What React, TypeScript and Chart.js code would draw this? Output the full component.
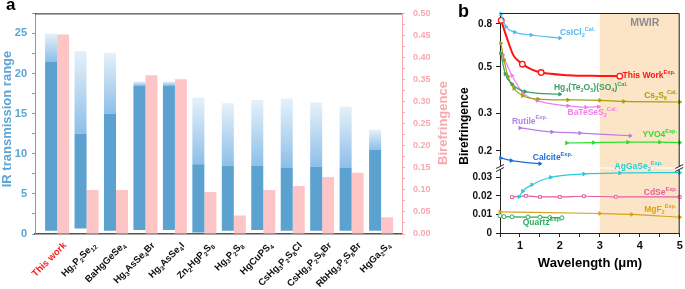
import React, { useEffect, useRef } from 'react';
import { Chart, registerables } from 'chart.js';
Chart.register(...registerables);

const FONT = '"Liberation Sans", Arial, Helvetica, sans-serif';
Chart.defaults.font.family = FONT;

// ---------- Panel a data ----------
const materials = ['This work', 'Hg7P2Se12', 'BaHgGeSe4', 'Hg3AsSe4Br', 'Hg3AsSe4I', 'Zn2HgP2S8', 'Hg3P2S8', 'HgCuPS4', 'CsHg3P2S8Cl', 'CsHg3P2S8Br', 'RbHg3P2S8Br', 'HgGa2S4'];
const irLow = [0.4, 0.7, 0.4, 0.5, 0.5, 0.2, 0.4, 0.5, 0.4, 0.4, 0.4, 0.4];
const irSolidTop = [21.5, 12.5, 15.0, 18.5, 18.5, 8.7, 8.5, 8.5, 8.3, 8.4, 8.3, 10.5];
const irHigh = [25.0, 22.8, 22.6, 19.0, 19.0, 17.0, 16.3, 16.7, 16.9, 16.4, 15.9, 13.0];
const birefA = [0.452, 0.10, 0.10, 0.36, 0.351, 0.095, 0.042, 0.10, 0.109, 0.129, 0.139, 0.038];
const irTicks = [0, 2.5, 5, 7.5, 10, 12.5, 15, 17.5, 20, 22.5, 25, 27.5];
const birefTicks = [0, 0.025, 0.05, 0.075, 0.1, 0.125, 0.15, 0.175, 0.2, 0.225, 0.25, 0.275, 0.3, 0.325, 0.35, 0.375, 0.4, 0.425, 0.45, 0.475, 0.5];

// ---------- Panel b data ----------
const csiclX = [0.52, 0.65, 0.87, 1.28, 2.0];
const csiclY = [0.89, 0.775, 0.73, 0.708, 0.685];
const thisWorkX = [0.53, 0.66, 0.83, 0.95, 1.06, 1.3, 1.53, 2.2, 3.0, 3.5];
const thisWorkY = [0.83, 0.697, 0.57, 0.536, 0.515, 0.485, 0.47, 0.457, 0.453, 0.452];
const thisWorkMarked = [1, 0, 0, 0, 1, 0, 1, 0, 0, 1];
const hgTeX = [0.52, 0.63, 0.8, 1.13, 2.0];
const hgTeY = [0.58, 0.464, 0.415, 0.382, 0.371];
const cs2s6X = [0.52, 0.6, 0.7, 0.85, 1.07, 1.45, 2.2, 3.0, 3.6, 5.0];
const cs2s6Y = [0.648, 0.54, 0.45, 0.395, 0.365, 0.352, 0.349, 0.347, 0.343, 0.341];
const batesesX = [0.57, 0.8, 1.07, 1.43, 2.2, 2.65, 2.97];
const batesesY = [0.57, 0.455, 0.378, 0.346, 0.327, 0.322, 0.324];
const rutileX = [1.0, 1.8, 2.5, 3.76];
const rutileY = [0.257, 0.246, 0.243, 0.236];
const yvo4X = [2.17, 2.84, 3.7, 4.5, 5.0];
const yvo4Y = [0.218, 0.219, 0.22, 0.22, 0.219];
const calciteX = [0.52, 0.78, 1.5];
const calciteY = [0.185, 0.18, 0.174];
const agX = [0.98, 1.07, 1.3, 1.77, 2.6, 3.5, 5.0];
const agY = [0.0195, 0.0225, 0.026, 0.03, 0.0318, 0.0323, 0.0325];
const cdseX = [0.8, 1.15, 1.5, 2.0, 2.6, 3.4, 5.0];
const cdseY = [0.0193, 0.02, 0.0194, 0.0194, 0.0198, 0.0195, 0.0194];
const mgf2X = [0.5, 3.0, 3.8, 5.0];
const mgf2Y = [0.0114, 0.0105, 0.01, 0.0085];
const quartzX = [0.5, 0.6, 0.8, 1.2, 1.5, 1.75, 2.05];
const quartzY = [0.0093, 0.0088, 0.0087, 0.0086, 0.0085, 0.0083, 0.0082];
const upperTicks = [0.2, 0.3, 0.5, 0.8];
const lowerTicks = [0, 0.01, 0.02, 0.03];
const wlTicks = [0.5, 1, 1.5, 2, 2.5, 3, 3.5, 4, 4.5, 5];

type Seg = [string, number];
interface SeriesB {
  x: number[]; y: number[]; axis: string; color: string; marker: string; width?: number;
  text: Seg[]; lx: number; ly: number; marked?: number[];
}

const seriesB: SeriesB[] = [
  { x: csiclX, y: csiclY, axis: 'yUp', color: '#52B9F0', marker: 'triangle', text: [['CsICl', 0], ['2', -1], ['Cal.', 1]], lx: 2.0, ly: 0.725 },
  { x: thisWorkX, y: thisWorkY, axis: 'yUp', color: '#FF1414', marker: 'circle', width: 2, marked: thisWorkMarked, text: [['This Work', 0], ['Exp.', 1]], lx: 3.57, ly: 0.452 },
  { x: hgTeX, y: hgTeY, axis: 'yUp', color: '#3AA264', marker: 'triangle', text: [['Hg', 0], ['4', -1], ['(Te', 0], ['2', -1], ['O', 0], ['5', -1], [')(SO', 0], ['4', -1], [')', 0], ['Cal.', 1]], lx: 1.85, ly: 0.398 },
  { x: cs2s6X, y: cs2s6Y, axis: 'yUp', color: '#A3A10E', marker: 'triangle', text: [['Cs', 0], ['2', -1], ['S', 0], ['6', -1], ['Cal.', 1]], lx: 4.11, ly: 0.365 },
  { x: batesesX, y: batesesY, axis: 'yUp', color: '#F47CEE', marker: 'triangle', text: [['BaTeSeS', 0], ['2', -1], ['Cal.', 1]], lx: 2.19, ly: 0.302 },
  { x: rutileX, y: rutileY, axis: 'yUp', color: '#B57FE6', marker: 'triangle', text: [['Rutile', 0], ['Exp.', 1]], lx: 0.8, ly: 0.276 },
  { x: yvo4X, y: yvo4Y, axis: 'yUp', color: '#2EE02E', marker: 'triangle', text: [['YVO4', 0], ['Exp.', 1]], lx: 4.07, ly: 0.239 },
  { x: calciteX, y: calciteY, axis: 'yUp', color: '#1F6FD8', marker: 'triangle', text: [['Calcite', 0], ['Exp.', 1]], lx: 1.32, ly: 0.185 },
  { x: agX, y: agY, axis: 'yLow', color: '#28CCD6', marker: 'triangle', text: [['AgGaSe', 0], ['2', -1], ['Exp.', 1]], lx: 3.37, ly: 0.0357 },
  { x: cdseX, y: cdseY, axis: 'yLow', color: '#E65C9E', marker: 'rect', text: [['CdSe', 0], ['Exp.', 1]], lx: 4.1, ly: 0.0217 },
  { x: mgf2X, y: mgf2Y, axis: 'yLow', color: '#D8A21E', marker: 'triangle', text: [['MgF', 0], ['2', -1], ['Exp.', 1]], lx: 4.11, ly: 0.0124 },
  { x: quartzX, y: quartzY, axis: 'yLow', color: '#2EAA60', marker: 'circle', text: [['Quartz', 0], ['Exp.', 1]], lx: 1.07, ly: 0.0054 },
];

const BLUE = '#5CA5D4';
const PINK = '#F7AAAC';

function formulaSegs(name: string): Seg[] {
  if (name === 'This work') return [[name, 0]];
  const out: Seg[] = [];
  const re = /(\d+)|([^\d]+)/g;
  let m: RegExpExecArray | null;
  while ((m = re.exec(name))) {
    if (m[1]) out.push([m[1], -1]);
    else out.push([m[2], 0]);
  }
  return out;
}

function rotText(ctx: CanvasRenderingContext2D, text: string, x: number, y: number, color: string, font: string) {
  ctx.save();
  ctx.translate(x, y);
  ctx.rotate(-Math.PI / 2);
  ctx.font = font;
  ctx.fillStyle = color;
  ctx.textAlign = 'center';
  ctx.textBaseline = 'middle';
  ctx.fillText(text, 0, 0);
  ctx.restore();
}

function segFont(kind: number, size: number) {
  const fs = kind === 0 ? size : size * 0.66;
  return `bold ${fs}px ${FONT}`;
}

function segsWidth(ctx: CanvasRenderingContext2D, segs: Seg[], size: number) {
  let w = 0;
  for (const [t, kind] of segs) {
    ctx.font = segFont(kind, size);
    w += ctx.measureText(t).width;
  }
  return w;
}

function richText(ctx: CanvasRenderingContext2D, segs: Seg[], x: number, y: number, color: string, size: number) {
  ctx.save();
  ctx.fillStyle = color;
  ctx.textBaseline = 'middle';
  ctx.textAlign = 'left';
  let cx = x;
  for (const [t, kind] of segs) {
    ctx.font = segFont(kind, size);
    const dy = kind === 1 ? -size * 0.42 : kind === -1 ? size * 0.32 : 0;
    ctx.fillText(t, cx, y + dy);
    cx += ctx.measureText(t).width;
  }
  ctx.restore();
}

function makeChartA(canvas: HTMLCanvasElement) {
  const decorA = {
    id: 'decorA',
    afterDraw(chart: any) {
      const { ctx, chartArea, scales } = chart;
      ctx.save();
      ctx.strokeStyle = '#222';
      ctx.lineWidth = 1;
      ctx.beginPath();
      ctx.moveTo(chartArea.left, chartArea.top + 0.5);
      ctx.lineTo(chartArea.right, chartArea.top + 0.5);
      ctx.stroke();
      ctx.fillStyle = '#000';
      ctx.font = `bold 17px ${FONT}`;
      ctx.textAlign = 'left';
      ctx.textBaseline = 'alphabetic';
      ctx.fillText('a', 6, 10);
      ctx.restore();
      rotText(ctx, 'IR transmission range', 7, 119, BLUE, `bold 13px ${FONT}`);
      rotText(ctx, 'Birefringence', 443, 123, PINK, `bold 13px ${FONT}`);
      // rotated category labels with subscripts
      const size = 9.5;
      materials.forEach((name, i) => {
        const segs = formulaSegs(name);
        const px = scales.x.getPixelForValue(i) + 8;
        const py = chartArea.bottom + 10;
        const w = segsWidth(ctx, segs, size);
        ctx.save();
        ctx.translate(px, py);
        ctx.rotate(-Math.PI / 4);
        richText(ctx, segs, -w, 0, i === 0 ? '#FF1A1A' : '#111', size);
        ctx.restore();
      });
    },
  };

  return new Chart(canvas, {
    type: 'bar',
    data: {
      datasets: [
        {
          label: 'IR solid',
          data: materials.map((_, i) => ({ x: i, y: [irLow[i], irSolidTop[i]] })) as any,
          backgroundColor: '#5BA2D0',
          stack: 'b',
          yAxisID: 'y',
        },
        {
          label: 'IR gradient',
          data: materials.map((_, i) => ({ x: i, y: [irSolidTop[i], irHigh[i]] })) as any,
          backgroundColor: (c: any) => {
            const chart = c.chart;
            if (!chart.chartArea || c.type !== 'data') return '#A8CDEE';
            const ys = chart.scales.y;
            const i = c.dataIndex;
            const y0 = ys.getPixelForValue(irSolidTop[i]);
            const y1 = ys.getPixelForValue(irHigh[i]);
            const g = chart.ctx.createLinearGradient(0, y0, 0, y1);
            g.addColorStop(0, '#8DBFE9');
            g.addColorStop(1, '#E6F1F9');
            return g;
          },
          stack: 'b',
          yAxisID: 'y',
        },
        {
          label: 'Birefringence',
          data: materials.map((_, i) => ({ x: i, y: birefA[i] })) as any,
          backgroundColor: '#FEC5C6',
          stack: 'p',
          yAxisID: 'y2',
        },
      ],
    },
    options: {
      responsive: false,
      animation: false,
      devicePixelRatio: 1,
      layout: { padding: { top: 11, left: 0, right: 0, bottom: 0 } },
      plugins: { legend: { display: false }, tooltip: { enabled: false } },
      datasets: { bar: { categoryPercentage: 0.815, barPercentage: 1.0 } },
      scales: {
        x: {
          type: 'linear',
          min: -0.75,
          max: 11.71,
          stacked: true,
          offset: false,
          afterBuildTicks: (s: any) => { s.ticks = materials.map((_, i) => ({ value: i })); },
          afterFit: (s: any) => { s.height = 55; },
          ticks: {
            autoSkip: false,
            maxRotation: 0,
            callback: () => '',
          },
          grid: { display: false },
          border: { display: true, color: '#555', width: 1.5 },
        },
        y: {
          type: 'linear',
          position: 'left',
          stacked: false,
          min: 0,
          max: 27.5,
          afterBuildTicks: (s: any) => { s.ticks = irTicks.map((v) => ({ value: v })); },
          afterFit: (s: any) => { s.width = 35; },
          ticks: {
            autoSkip: false,
            padding: 5,
            callback: (v: any) => (Number(v) % 5 === 0 ? String(v) : ''),
            color: BLUE,
            font: { size: 11, weight: 'bold' },
          },
          grid: { drawOnChartArea: false, tickLength: 3, color: BLUE },
          border: { color: BLUE, width: 1 },
        },
        y2: {
          type: 'linear',
          position: 'right',
          stacked: false,
          min: 0,
          max: 0.5,
          afterBuildTicks: (s: any) => { s.ticks = birefTicks.map((v) => ({ value: v })); },
          afterFit: (s: any) => { s.width = 48; },
          ticks: {
            autoSkip: false,
            padding: 8,
            callback: (v: any) => (Math.round(Number(v) * 1000) % 50 === 0 ? Number(v).toFixed(2) : ''),
            color: PINK,
            font: { size: 9, weight: 'bold' },
          },
          grid: { drawOnChartArea: false, tickLength: 3, color: PINK },
          border: { color: PINK, width: 1 },
        },
      },
    } as any,
    plugins: [decorA],
  });
}

function makeChartB(canvas: HTMLCanvasElement) {
  const decorB = {
    id: 'decorB',
    beforeDatasetsDraw(chart: any) {
      const { ctx, chartArea, scales } = chart;
      const x3 = scales.x.getPixelForValue(3);
      const x5 = scales.x.getPixelForValue(5);
      ctx.save();
      ctx.fillStyle = 'rgb(252,229,199)';
      ctx.fillRect(x3, chartArea.top, x5 - x3, chartArea.bottom - chartArea.top);
      ctx.fillStyle = '#8C8C8C';
      ctx.font = `bold 10.5px ${FONT}`;
      ctx.textAlign = 'center';
      ctx.textBaseline = 'middle';
      ctx.fillText('MWIR', (x3 + x5) / 2 + 5, 23.5);
      ctx.restore();
    },
    afterDatasetsDraw(chart: any) {
      const { ctx, chartArea, scales } = chart;
      const yb = scales.yUp.bottom;
      ctx.save();
      ctx.strokeStyle = '#fff';
      ctx.lineWidth = 1.2;
      ctx.beginPath();
      ctx.moveTo(chartArea.left, yb);
      ctx.lineTo(chartArea.right, yb);
      ctx.stroke();
      ctx.strokeStyle = '#222';
      ctx.lineWidth = 1;
      ctx.beginPath();
      ctx.moveTo(chartArea.left, chartArea.top + 0.5);
      ctx.lineTo(chartArea.right - 0.5, chartArea.top + 0.5);
      ctx.lineTo(chartArea.right - 0.5, chartArea.bottom);
      ctx.stroke();
      // axis break marks
      for (const bx of [chartArea.left, chartArea.right - 0.5]) {
        ctx.fillStyle = '#fff';
        ctx.beginPath();
        ctx.moveTo(bx - 4, yb + 0.5);
        ctx.lineTo(bx + 4, yb - 3.5);
        ctx.lineTo(bx + 4, yb - 0.5);
        ctx.lineTo(bx - 4, yb + 3.5);
        ctx.closePath();
        ctx.fill();
        ctx.strokeStyle = '#222';
        ctx.beginPath();
        ctx.moveTo(bx - 4, yb + 0.5);
        ctx.lineTo(bx + 4, yb - 3.5);
        ctx.moveTo(bx - 4, yb + 3.5);
        ctx.lineTo(bx + 4, yb - 0.5);
        ctx.stroke();
      }
      ctx.restore();
      for (const s of seriesB) {
        const sc = scales[s.axis];
        richText(ctx, s.text, scales.x.getPixelForValue(s.lx), sc.getPixelForValue(s.ly), s.color, 8.5);
      }
    },
    afterDraw(chart: any) {
      const { ctx } = chart;
      ctx.save();
      ctx.fillStyle = '#000';
      ctx.font = `bold 18px ${FONT}`;
      ctx.textAlign = 'left';
      ctx.textBaseline = 'alphabetic';
      ctx.fillText('b', 8, 17);
      ctx.font = `bold 13px ${FONT}`;
      ctx.textAlign = 'center';
      ctx.textBaseline = 'middle';
      ctx.fillText('Wavelength (μm)', 140, 263);
      ctx.restore();
      rotText(ctx, 'Birefringence', 15, 126, '#000', `bold 12px ${FONT}`);
    },
  };

  const datasets = seriesB.map((s) => {
    const marked = s.marked;
    const isWork = s.color === '#FF1414';
    return {
      type: 'line',
      data: s.x.map((x, i) => ({ x, y: s.y[i] })),
      yAxisID: s.axis,
      borderColor: s.color,
      backgroundColor: s.color,
      borderWidth: s.width ?? 1.2,
      cubicInterpolationMode: 'monotone',
      pointStyle: s.marker,
      pointRotation: s.marker === 'triangle' ? 90 : 0,
      pointRadius: marked ? marked.map((m) => (m ? 2.8 : 0)) : 2,
      pointBorderWidth: isWork ? 1.3 : 1,
      pointBackgroundColor: s.marker === 'triangle' ? s.color : '#fff',
      pointBorderColor: s.color,
      clip: false,
    };
  });

  return new Chart(canvas, {
    type: 'line',
    data: { datasets } as any,
    options: {
      responsive: false,
      animation: false,
      devicePixelRatio: 1,
      layout: { padding: { top: 13, right: 3, left: 0, bottom: 0 } },
      plugins: { legend: { display: false }, tooltip: { enabled: false } },
      scales: {
        x: {
          type: 'linear',
          min: 0.5,
          max: 5,
          afterBuildTicks: (s: any) => { s.ticks = wlTicks.map((v) => ({ value: v })); },
          afterFit: (s: any) => { s.height = 56; },
          ticks: {
            autoSkip: false,
            maxRotation: 0,
            padding: 2,
            callback: (v: any) => (Number.isInteger(Number(v)) ? String(v) : ''),
            color: '#111',
            font: { size: 11, weight: 'bold' },
          },
          grid: { drawOnChartArea: false, tickLength: 4, color: '#222' },
          border: { color: '#222', width: 1 },
        },
        yLow: {
          type: 'linear',
          position: 'left',
          stack: 'bir',
          stackWeight: 65,
          weight: 0,
          min: 0,
          max: 0.035,
          afterBuildTicks: (s: any) => { s.ticks = lowerTicks.map((v) => ({ value: v })); },
          afterFit: (s: any) => { s.width = 50; },
          ticks: {
            autoSkip: false,
            padding: 4,
            callback: (v: any) => (Number(v) === 0 ? '0' : Number(v).toFixed(2)),
            color: '#111',
            font: { size: 10, weight: 'bold' },
          },
          grid: { drawOnChartArea: false, tickLength: 4, color: '#222' },
          border: { color: '#222', width: 1 },
        },
        yUp: {
          type: 'logarithmic',
          position: 'left',
          stack: 'bir',
          stackWeight: 155,
          weight: 1,
          min: 0.166,
          max: 0.9,
          afterBuildTicks: (s: any) => { s.ticks = upperTicks.map((v) => ({ value: v })); },
          afterFit: (s: any) => { s.width = 50; },
          ticks: {
            autoSkip: false,
            padding: 4,
            callback: (v: any) => String(v),
            color: '#111',
            font: { size: 10, weight: 'bold' },
          },
          grid: { drawOnChartArea: false, tickLength: 4, color: '#222' },
          border: { color: '#222', width: 1 },
        },
      },
    } as any,
    plugins: [decorB],
  });
}

export default function App() {
  const refA = useRef<HTMLCanvasElement>(null);
  const refB = useRef<HTMLCanvasElement>(null);
  useEffect(() => {
    const a = makeChartA(refA.current!);
    const b = makeChartB(refB.current!);
    return () => {
      a.destroy();
      b.destroy();
    };
  }, []);
  return (
    <div style={{ position: 'absolute', left: 0, top: 0, width: 685, height: 289, background: '#fff' }}>
      <canvas ref={refA} width={450} height={289} style={{ position: 'absolute', left: 0, top: 0 }} />
      <canvas ref={refB} width={235} height={289} style={{ position: 'absolute', left: 450, top: 0 }} />
    </div>
  );
}
